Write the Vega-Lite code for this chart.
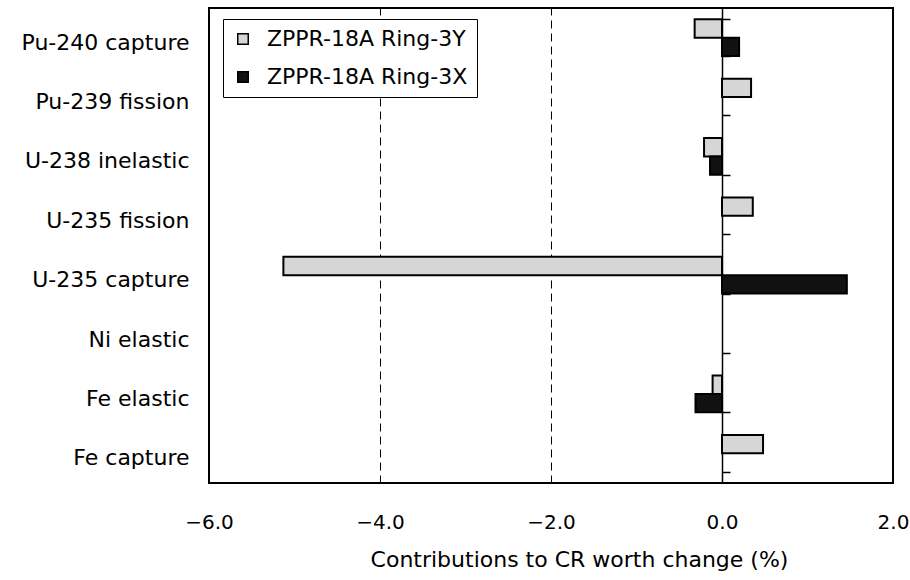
{
  "$schema": "https://vega.github.io/schema/vega-lite/v6.json",
  "autosize": "none",
  "width": 684,
  "height": 475,
  "padding": {"left": 209, "top": 8, "right": 17, "bottom": 97},
  "background": "white",
  "config": {
    "font": "DejaVu Sans",
    "view": {"stroke": "black", "strokeWidth": 2}
  },
  "data": {
    "values": [
      {"reaction": "Pu-240 capture", "series": "ZPPR-18A Ring-3Y", "value": -0.32},
      {"reaction": "Pu-240 capture", "series": "ZPPR-18A Ring-3X", "value": 0.2},
      {"reaction": "Pu-239 fission", "series": "ZPPR-18A Ring-3Y", "value": 0.34},
      {"reaction": "U-238 inelastic", "series": "ZPPR-18A Ring-3Y", "value": -0.21},
      {"reaction": "U-238 inelastic", "series": "ZPPR-18A Ring-3X", "value": -0.14},
      {"reaction": "U-235 fission", "series": "ZPPR-18A Ring-3Y", "value": 0.36},
      {"reaction": "U-235 capture", "series": "ZPPR-18A Ring-3Y", "value": -5.13},
      {"reaction": "U-235 capture", "series": "ZPPR-18A Ring-3X", "value": 1.46},
      {"reaction": "Fe elastic", "series": "ZPPR-18A Ring-3Y", "value": -0.11},
      {"reaction": "Fe elastic", "series": "ZPPR-18A Ring-3X", "value": -0.31},
      {"reaction": "Fe capture", "series": "ZPPR-18A Ring-3Y", "value": 0.48}
    ]
  },
  "encoding": {
    "y": {
      "field": "reaction",
      "type": "nominal",
      "scale": {
        "domain": ["Pu-240 capture", "Pu-239 fission", "U-238 inelastic", "U-235 fission", "U-235 capture", "Ni elastic", "Fe elastic", "Fe capture"],
        "paddingInner": 0.38,
        "paddingOuter": 0.19
      }
    },
    "x": {
      "field": "value",
      "type": "quantitative",
      "scale": {"domain": [-6, 2], "nice": false, "zero": false},
      "title": "Contributions to CR worth change (%)",
      "axis": {
        "values": [-6, -4, -2, 0, 2],
        "format": ".1f",
        "ticks": false,
        "domain": false,
        "grid": true,
        "gridColor": "black",
        "gridDash": [8, 5],
        "gridWidth": 1,
        "labelFlush": false,
        "labelFontSize": 20,
        "labelColor": "black",
        "labelPadding": 29,
        "titleFontSize": 22,
        "titleFontWeight": "normal",
        "titleColor": "black",
        "titleX": 370,
        "titleAnchor": "middle",
        "titlePadding": 17
      }
    }
  },
  "layer": [
    {
      "mark": {"type": "bar", "stroke": "black", "strokeWidth": 2},
      "encoding": {
        "y": {
          "field": "reaction",
          "type": "nominal",
          "title": null,
          "axis": {
            "orient": "left",
            "ticks": false,
            "domain": false,
            "labelFontSize": 22,
            "labelColor": "black",
            "labelPadding": 20,
            "labelBaseline": "middle",
            "labelOffset": 5,
            "labelLimit": 300
          }
        },
        "yOffset": {
          "field": "series",
          "type": "nominal",
          "scale": {"domain": ["ZPPR-18A Ring-3Y", "ZPPR-18A Ring-3X"], "paddingInner": 0, "paddingOuter": 0}
        },
        "fill": {
          "field": "series",
          "type": "nominal",
          "scale": {"domain": ["ZPPR-18A Ring-3Y", "ZPPR-18A Ring-3X"], "range": ["#d6d6d6", "#111111"]},
          "legend": {
            "title": null,
            "orient": "none",
            "legendX": 14,
            "legendY": 11,
            "strokeColor": "black",
            "padding": 9,
            "symbolType": "square",
            "symbolSize": 110,
            "symbolStrokeColor": "black",
            "symbolStrokeWidth": 1.5,
            "labelFontSize": 22,
            "labelOffset": 13,
            "labelColor": "black",
            "labelLimit": 400,
            "rowPadding": 16,
            "fillColor": "white"
          }
        }
      }
    },
    {
      "mark": {"type": "bar", "opacity": 0},
      "encoding": {
        "y": {
          "field": "reaction",
          "type": "nominal",
          "title": null,
          "axis": {
            "orient": "right",
            "offset": -171,
            "labels": false,
            "ticks": true,
            "tickBand": "extent",
            "tickSize": 8,
            "tickColor": "black",
            "tickWidth": 1.5,
            "domain": true,
            "domainColor": "black",
            "domainWidth": 1.5,
            "grid": false
          }
        }
      }
    }
  ],
  "resolve": {"axis": {"y": "independent"}}
}
